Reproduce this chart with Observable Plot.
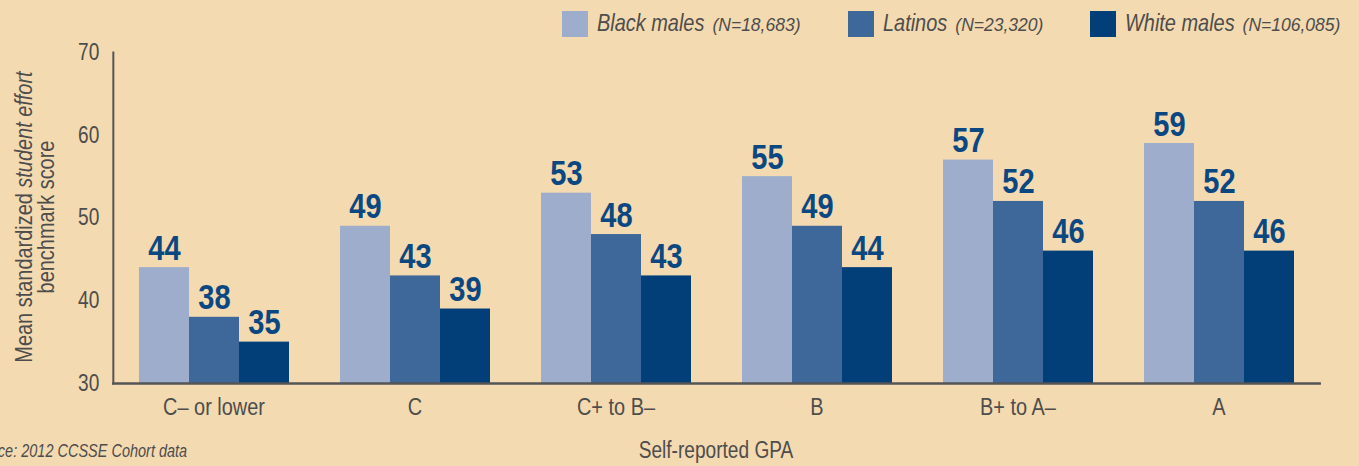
<!DOCTYPE html>
<html><head><meta charset="utf-8">
<script src="https://cdn.jsdelivr.net/npm/d3@7"></script>
<script src="https://cdn.jsdelivr.net/npm/@observablehq/plot@0.6"></script>
<style>
html,body{margin:0;padding:0;background:#f4dab0;}
#wrap{position:relative;width:1359px;height:466px;overflow:hidden;font-family:"Liberation Sans",Arial,sans-serif;color:#4d4d4d;background:#f4dab0;}
#wrap svg{position:absolute;left:0;top:0;}
.item{position:absolute;top:11px;height:26px;display:flex;align-items:center;white-space:nowrap;}
.sw{width:26px;height:26px;margin-right:9px;flex:none;}
.lab{font-style:italic;line-height:26px;white-space:nowrap;}
.main{display:inline-block;font-size:24px;transform-origin:left center;}
.n{font-size:17.5px;}
#ytitle{position:absolute;left:-165px;top:195px;width:400px;height:44px;line-height:22px;font-size:24px;text-align:center;transform:rotate(-90deg) scaleX(0.83);white-space:nowrap;}
#xtitle{position:absolute;left:516px;top:437px;width:400px;text-align:center;font-size:23px;line-height:26px;transform:scaleX(0.83);}
#source{position:absolute;right:1172px;top:441px;font-size:18px;font-style:italic;white-space:nowrap;line-height:20px;transform:scaleX(0.805);transform-origin:right center;}
</style></head>
<body>
<div id="wrap">
  <div id="legend"></div>
  <div id="ytitle"></div>
  <div id="xtitle"></div>
  <div id="source"></div>
</div>
<script>
const gpa = ["C– or lower", "C", "C+ to B–", "B", "B+ to A–", "A"];
const groups = ["Black males", "Latinos", "White males"];
const groupN = ["(N=18,683)", "(N=23,320)", "(N=106,085)"];
const black = [44, 49, 53, 55, 57, 59];
const latino = [38, 43, 48, 49, 52, 52];
const white = [35, 39, 43, 44, 46, 46];
const colors = ["#9dadcb", "#3e6899", "#023f78"];
const yTicks = [30, 40, 50, 60, 70];
const yTitleLines = [["Mean standardized ", "student effort"], ["benchmark score"]];
const xTitle = "Self-reported GPA";
const sourceText = "Source: 2012 CCSSE Cohort data";

const FONT = '"Liberation Sans",Arial,sans-serif';
const NARROW = 0.83;           // horizontal squeeze to mimic a condensed face
const legendLeft = [562, 848, 1090];
const labelColor = "#0b4882";
const axisColor = "#555555";
const yMin = yTicks[0];
const fxPadInner = 0.25, fxPadOuter = 0.125;

const series = [black, latino, white];
const data = gpa.flatMap((g, i) => series.map((s, j) => ({gpa: g, group: groups[j], v: s[i]})));

const W = 1359 - 112 - 39;
const step = W / (gpa.length - fxPadInner + 2 * fxPadOuter);
const outerPad = step * fxPadOuter;

const chart = Plot.plot({
  width: 1359, height: 466,
  marginTop: 52, marginBottom: 83, marginLeft: 112, marginRight: 39,
  style: {background: "transparent", fontFamily: FONT, color: "#4d4d4d", overflow: "visible"},
  fx: {domain: gpa, paddingInner: fxPadInner, paddingOuter: fxPadOuter, label: null},
  x: {domain: groups, padding: 0, axis: null},
  y: {domain: [yTicks[0], yTicks[yTicks.length - 1]], axis: null},
  color: {domain: groups, range: colors},
  marks: [
    Plot.barY(data, {fx: "gpa", x: "group", y1: yMin, y2: "v", fill: "group"}),
    Plot.text(data, {fx: "gpa", x: "group", y: "v", text: d => String(d.v), lineAnchor: "bottom", dy: -8, fontSize: 35, fontWeight: "bold", fill: labelColor}),
    Plot.frame({facet: "super", anchor: "left", insetLeft: -outerPad, stroke: axisColor, strokeWidth: 2}),
    Plot.frame({facet: "super", anchor: "bottom", insetLeft: -outerPad, insetRight: -outerPad, stroke: axisColor, strokeWidth: 2.5}),
    Plot.axisY(yTicks, {anchor: "left", tickSize: 0, tickPadding: 14 + outerPad, fontSize: 23, label: null, fill: "#4d4d4d"}),
    Plot.axisFx({anchor: "bottom", tickSize: 0, tickPadding: 14, fontSize: 24, label: null, fill: "#4d4d4d"})
  ]
});
// squeeze glyphs horizontally around each text's own anchor
d3.select(chart).selectAll("text").each(function() {
  const t = this.getAttribute("transform") || "";
  this.setAttribute("transform", (t + ` scale(${NARROW},1)`).trim());
});
const wrap = document.getElementById("wrap");
wrap.insertBefore(chart, wrap.firstChild);

const legend = d3.select("#legend");
groups.forEach((g, i) => {
  const it = legend.append("div").attr("class", "item").style("left", legendLeft[i] + "px");
  it.append("div").attr("class", "sw").style("background", colors[i]);
  const lab = it.append("div").attr("class", "lab");
  const main = lab.append("span").attr("class", "main").text(g);
  lab.append("span").attr("class", "n").text(groupN[i]);
  const w = main.node().offsetWidth;
  main.style("transform", `scaleX(${NARROW})`).style("margin-right", (8 - w * (1 - NARROW)) + "px");
});
const yt = d3.select("#ytitle");
yTitleLines.forEach(parts => {
  const line = yt.append("div");
  parts.forEach((p, k) => {
    if (k === 1) line.append("i").text(p); else line.append("span").text(p);
  });
});
d3.select("#xtitle").text(xTitle);
d3.select("#source").text(sourceText);
</script>
</body></html>
